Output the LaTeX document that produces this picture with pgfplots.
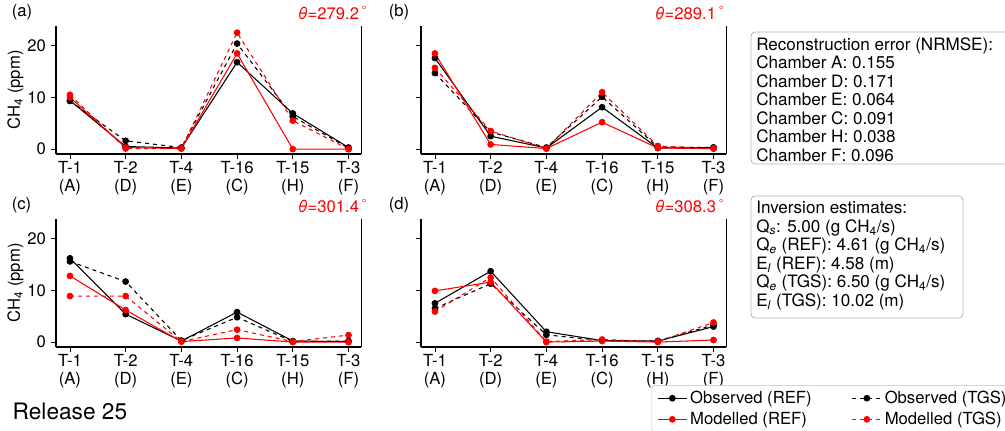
\documentclass[border=0pt]{standalone}
\usepackage{fontspec}
\setmainfont{TeX Gyre Heros}
\usepackage{pgfplots}
\pgfplotsset{compat=1.18}
\definecolor{myred}{RGB}{255,0,0}
\pgfplotsset{
  panel/.style={
    scale only axis, width=229pt, height=96pt,
    xmin=-0.25, xmax=5.23, ymin=-0.95, ymax=23.8,
    axis x line*=bottom, axis y line*=left,
    axis line style={line width=1.2pt},
    xtick={0,...,5},
    xticklabels={{T-1\\(A)},{T-2\\(D)},{T-4\\(E)},{T-16\\(C)},{T-15\\(H)},{T-3\\(F)}},
    xticklabel style={align=center, font=\fontsize{12.5}{13.5}\selectfont, inner sep=1pt},
    yticklabel style={font=\fontsize{12.5}{13.5}\selectfont},
    ytick={0,10,20},
    tick align=outside, major tick length=4pt,
    tick style={black, line width=0.6pt},
    /pgf/number format/assume math mode=true,
    clip=false,
    every axis plot/.append style={line width=0.8pt, mark=*, mark size=2.1pt},
  },
  oref/.style={black, solid, mark options={solid}},
  otgs/.style={black, dashed, mark options={solid}},
  mref/.style={myred, solid, mark options={solid}},
  mtgs/.style={myred, dashed, mark options={solid}},
}
\newcommand\rspine{\draw[line width=1.2pt] (rel axis cs:1,0) -- (rel axis cs:1,1);}
\newcommand\CH{CH\textsubscript{4}}
\begin{document}
\begin{tikzpicture}
\path[use as bounding box] (0,0) rectangle (753.75pt,323.25pt);
\clip (0,0) rectangle (753.75pt,323.25pt);
% (a)
\begin{axis}[panel, at={(42pt,207.75pt)}, anchor=south west,
  ylabel={\CH{} (ppm)}, ylabel style={font=\fontsize{12.5}{13.5}\selectfont, yshift=-4pt}]
\addplot[oref] coordinates {(0,9.4)(1,0.5)(2,0.2)(3,16.8)(4,6.9)(5,0.3)};
\addplot[otgs] coordinates {(0,9.3)(1,1.6)(2,0.3)(3,20.4)(4,6.3)(5,0.2)};
\addplot[mref] coordinates {(0,10.0)(1,0.3)(2,0.1)(3,18.5)(4,0.0)(5,0.0)};
\addplot[mtgs] coordinates {(0,10.5)(1,0.1)(2,0.1)(3,22.5)(4,5.5)(5,0.0)};
\rspine
\end{axis}
% (b)
\begin{axis}[panel, at={(315.75pt,207.75pt)}, anchor=south west, yticklabels={}]
\addplot[oref] coordinates {(0,17.6)(1,2.5)(2,0.2)(3,8.1)(4,0.2)(5,0.3)};
\addplot[otgs] coordinates {(0,14.7)(1,3.3)(2,0.3)(3,10.1)(4,0.4)(5,0.3)};
\addplot[mref] coordinates {(0,18.5)(1,0.9)(2,0.1)(3,5.2)(4,0.2)(5,0.1)};
\addplot[mtgs] coordinates {(0,15.7)(1,3.5)(2,0.1)(3,11.0)(4,0.6)(5,0.1)};
\rspine
\end{axis}
% (c)
\begin{axis}[panel, at={(42pt,63pt)}, anchor=south west,
  ylabel={\CH{} (ppm)}, ylabel style={font=\fontsize{12.5}{13.5}\selectfont, yshift=-4pt}]
\addplot[oref] coordinates {(0,16.2)(1,5.4)(2,0.2)(3,5.8)(4,0.2)(5,0.1)};
\addplot[otgs] coordinates {(0,15.6)(1,11.7)(2,0.3)(3,4.8)(4,0.1)(5,0.2)};
\addplot[mref] coordinates {(0,12.8)(1,6.2)(2,0.1)(3,0.8)(4,0.0)(5,0.0)};
\addplot[mtgs] coordinates {(0,8.9)(1,8.9)(2,0.1)(3,2.4)(4,0.1)(5,1.35)};
\rspine
\end{axis}
% (d)
\begin{axis}[panel, at={(315.75pt,63pt)}, anchor=south west, yticklabels={},
  legend columns=2,
  legend image code/.code={\draw[mark repeat=2,mark phase=2] plot coordinates {(0pt,0pt)(11pt,0pt)(22pt,0pt)};},
  legend style={at={(0.755,-0.30)}, anchor=north west, draw=black!25, rounded corners=2pt,
    font=\fontsize{12.5}{13.5}\selectfont, /tikz/every even column/.append style={column sep=28pt},
    row sep=1pt, inner xsep=4pt, inner ysep=2pt},
  legend cell align=left]
\addplot[oref] coordinates {(0,7.5)(1,13.7)(2,2.0)(3,0.3)(4,0.2)(5,3.0)};
\addlegendentry{Observed (REF)}
\addplot[otgs] coordinates {(0,6.5)(1,11.3)(2,1.4)(3,0.3)(4,0.2)(5,3.3)};
\addlegendentry{Observed (TGS)}
\addplot[mref] coordinates {(0,9.9)(1,11.6)(2,0.0)(3,0.2)(4,0.0)(5,0.4)};
\addlegendentry{Modelled (REF)}
\addplot[mtgs] coordinates {(0,5.9)(1,12.5)(2,0.1)(3,0.5)(4,0.1)(5,3.8)};
\addlegendentry{Modelled (TGS)}
\rspine
\end{axis}
% annotations
\begin{scope}[x=0.75pt,y=0.75pt]
\begingroup\fontsize{12.5}{13.5}\selectfont
\node[anchor=west] at (6,419) {(a)};
\node[anchor=west] at (383,419) {(b)};
\node[anchor=west] at (6,226) {(c)};
\node[anchor=west] at (383,226) {(d)};
\node[anchor=east, text=myred] at (373,418) {\textit{θ}=279.2\,\textsuperscript{°}};
\node[anchor=east, text=myred] at (730,418) {\textit{θ}=289.1\,\textsuperscript{°}};
\node[anchor=east, text=myred] at (373,225) {\textit{θ}=301.4\,\textsuperscript{°}};
\node[anchor=east, text=myred] at (730,225) {\textit{θ}=308.3\,\textsuperscript{°}};
\draw[black!30, rounded corners=3pt, line width=0.6pt] (751,399) rectangle (1015,267);
\node[anchor=north west, align=left, inner sep=0pt, font=\fontsize{12.8}{13.9}\selectfont] at (756,394)
 {Reconstruction error (NRMSE):\\Chamber A: 0.155\\Chamber D: 0.171\\Chamber E: 0.064\\Chamber C: 0.091\\Chamber H: 0.038\\Chamber F: 0.096};
\draw[black!30, rounded corners=3pt, line width=0.6pt] (751,235) rectangle (963,113);
\node[anchor=north west, align=left, inner sep=0pt, font=\fontsize{12.8}{13.9}\selectfont] at (756,230)
 {Inversion estimates:\\Q\textsubscript{\textit{s}}: 5.00 (g \CH/s)\\Q\textsubscript{\textit{e}} (REF): 4.61 (g \CH/s)\\E\textsubscript{\textit{l}} (REF): 4.58 (m)\\Q\textsubscript{\textit{e}} (TGS): 6.50 (g \CH/s)\\E\textsubscript{\textit{l}} (TGS): 10.02 (m)};
\endgroup
\node[anchor=west, font=\fontsize{17}{19}\selectfont] at (8,20) {Release 25};
\end{scope}
\end{tikzpicture}
\end{document}
